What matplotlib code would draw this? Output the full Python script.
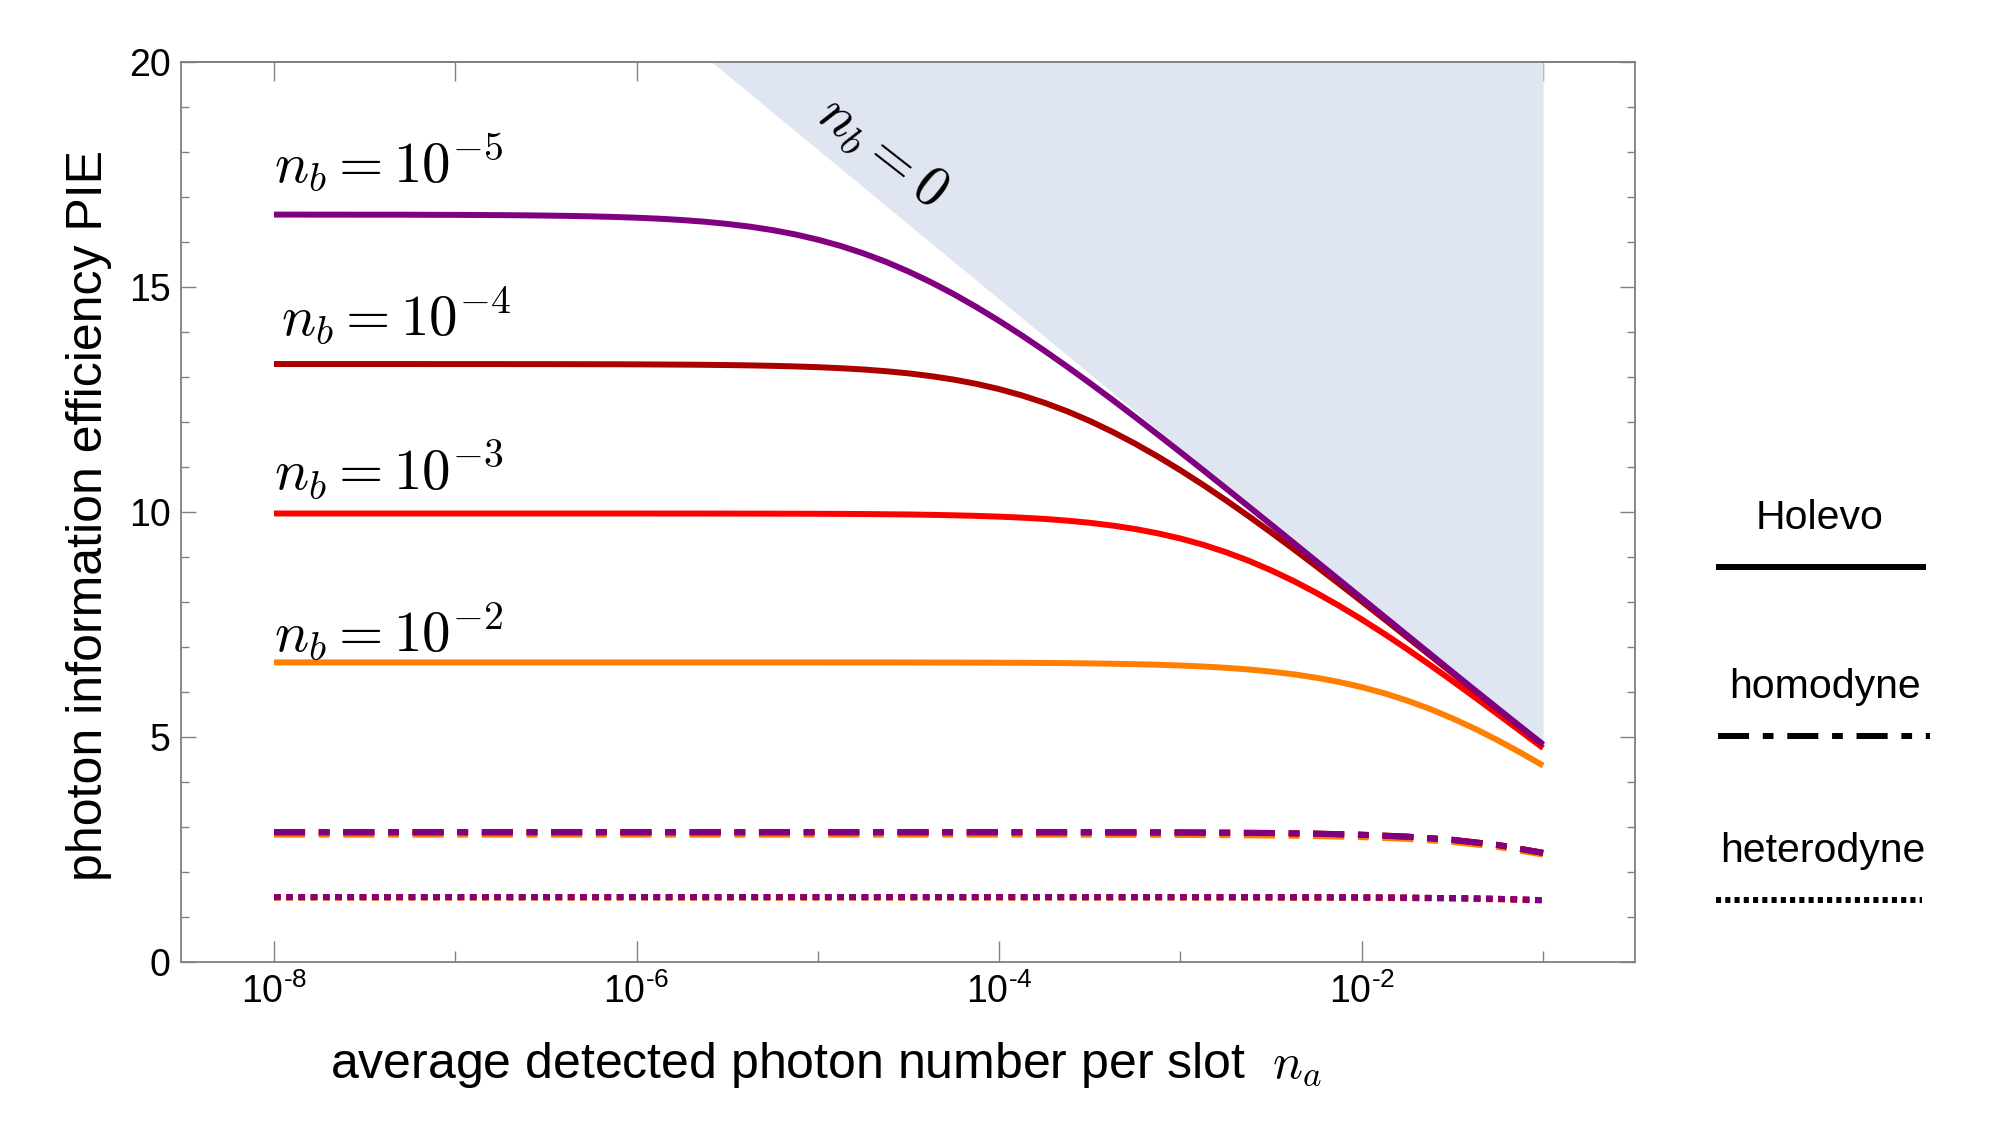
#!/usr/bin/env python

"""
photon information efficiency vs. average detected photon number
"""

import matplotlib
matplotlib.use("Agg")
import matplotlib.pyplot as plt
from matplotlib.lines import Line2D
from matplotlib.ticker import FixedLocator, NullLocator, NullFormatter

# ---- data ----
# fine x grid for the Holevo curves (1/8 decade)
na_fine = [1e-8, 1.334e-8, 1.778e-8, 2.371e-8, 3.162e-8, 4.217e-8, 5.623e-8, 7.499e-8,
           1e-7, 1.334e-7, 1.778e-7, 2.371e-7, 3.162e-7, 4.217e-7, 5.623e-7, 7.499e-7,
           1e-6, 1.334e-6, 1.778e-6, 2.371e-6, 3.162e-6, 4.217e-6, 5.623e-6, 7.499e-6,
           1e-5, 1.334e-5, 1.778e-5, 2.371e-5, 3.162e-5, 4.217e-5, 5.623e-5, 7.499e-5,
           1e-4, 1.334e-4, 1.778e-4, 2.371e-4, 3.162e-4, 4.217e-4, 5.623e-4, 7.499e-4,
           1e-3, 1.334e-3, 1.778e-3, 2.371e-3, 3.162e-3, 4.217e-3, 5.623e-3, 7.499e-3,
           1e-2, 1.334e-2, 1.778e-2, 2.371e-2, 3.162e-2, 4.217e-2, 5.623e-2, 7.499e-2,
           1e-1]

# Holevo, one curve per background noise n_b
holevo_nb5 = [16.609, 16.609, 16.608, 16.608, 16.607, 16.607, 16.606, 16.604,
              16.603, 16.600, 16.597, 16.593, 16.587, 16.580, 16.570, 16.557,
              16.540, 16.518, 16.488, 16.451, 16.402, 16.341, 16.264, 16.169,
              16.052, 15.913, 15.749, 15.560, 15.344, 15.104, 14.840, 14.553,
              14.247, 13.923, 13.583, 13.230, 12.866, 12.492, 12.110, 11.721,
              11.328, 10.930, 10.529, 10.125, 9.719, 9.311, 8.902, 8.493,
              8.082, 7.672, 7.262, 6.853, 6.444, 6.037, 5.633, 5.231,
              4.833]
holevo_nb4 = [13.288, 13.288, 13.288, 13.288, 13.288, 13.288, 13.288, 13.287,
              13.287, 13.287, 13.287, 13.286, 13.286, 13.285, 13.284, 13.283,
              13.281, 13.278, 13.275, 13.271, 13.265, 13.258, 13.248, 13.235,
              13.218, 13.196, 13.167, 13.129, 13.081, 13.019, 12.942, 12.847,
              12.731, 12.591, 12.427, 12.238, 12.023, 11.782, 11.518, 11.232,
              10.926, 10.602, 10.263, 9.910, 9.546, 9.173, 8.792, 8.405,
              8.013, 7.617, 7.219, 6.819, 6.418, 6.016, 5.616, 5.218,
              4.823]
holevo_nb3 = [9.967, 9.967, 9.967, 9.967, 9.967, 9.967, 9.967, 9.967,
              9.967, 9.967, 9.967, 9.967, 9.967, 9.967, 9.967, 9.967,
              9.967, 9.966, 9.966, 9.966, 9.965, 9.964, 9.963, 9.962,
              9.960, 9.958, 9.955, 9.950, 9.945, 9.937, 9.927, 9.914,
              9.897, 9.875, 9.846, 9.808, 9.760, 9.699, 9.622, 9.526,
              9.411, 9.272, 9.108, 8.919, 8.704, 8.465, 8.201, 7.916,
              7.612, 7.290, 6.953, 6.605, 6.246, 5.879, 5.507, 5.132,
              4.755]
holevo_nb2 = [6.658, 6.658, 6.658, 6.658, 6.658, 6.658, 6.658, 6.658,
              6.658, 6.658, 6.658, 6.658, 6.658, 6.658, 6.658, 6.658,
              6.658, 6.658, 6.658, 6.658, 6.658, 6.658, 6.658, 6.658,
              6.658, 6.657, 6.657, 6.657, 6.656, 6.655, 6.654, 6.653,
              6.651, 6.649, 6.646, 6.641, 6.636, 6.628, 6.618, 6.606,
              6.589, 6.567, 6.538, 6.501, 6.453, 6.393, 6.317, 6.223,
              6.108, 5.971, 5.810, 5.625, 5.415, 5.182, 4.928, 4.654,
              4.365]

# n_b = 0 limit (upper edge of the shaded area)
na_limit = [1e-6, 1.778e-6, 3.162e-6, 5.623e-6, 1e-5, 1.778e-5, 3.162e-5, 5.623e-5,
            1e-4, 1.778e-4, 3.162e-4, 5.623e-4, 1e-3, 1.778e-3, 3.162e-3, 5.623e-3,
            1e-2, 1.778e-2, 3.162e-2, 5.623e-2, 1e-1]
holevo_nb0 = [21.374, 20.544, 19.713, 18.883, 18.052, 17.222, 16.391, 15.561,
              14.730, 13.900, 13.069, 12.239, 11.409, 10.579, 9.750, 8.921,
              8.094, 7.269, 6.448, 5.636, 4.835]

# coarse x grid for homodyne / heterodyne (1/4 decade)
na = [1e-8, 1.778e-8, 3.162e-8, 5.623e-8, 1e-7, 1.778e-7, 3.162e-7, 5.623e-7,
      1e-6, 1.778e-6, 3.162e-6, 5.623e-6, 1e-5, 1.778e-5, 3.162e-5, 5.623e-5,
      1e-4, 1.778e-4, 3.162e-4, 5.623e-4, 1e-3, 1.778e-3, 3.162e-3, 5.623e-3,
      1e-2, 1.778e-2, 3.162e-2, 5.623e-2, 1e-1]

homo_nb5 = [2.885, 2.885, 2.885, 2.885, 2.885, 2.885, 2.885, 2.885,
            2.885, 2.885, 2.885, 2.885, 2.885, 2.885, 2.885, 2.885,
            2.885, 2.884, 2.884, 2.882, 2.880, 2.875, 2.867, 2.853,
            2.829, 2.787, 2.717, 2.603, 2.427]
homo_nb4 = [2.885, 2.885, 2.885, 2.885, 2.885, 2.885, 2.885, 2.885,
            2.885, 2.885, 2.885, 2.885, 2.885, 2.885, 2.885, 2.885,
            2.885, 2.884, 2.883, 2.882, 2.879, 2.875, 2.867, 2.853,
            2.829, 2.787, 2.716, 2.602, 2.427]
homo_nb3 = [2.880, 2.880, 2.880, 2.880, 2.880, 2.880, 2.880, 2.880,
            2.880, 2.880, 2.880, 2.880, 2.880, 2.880, 2.880, 2.879,
            2.879, 2.879, 2.878, 2.876, 2.874, 2.869, 2.862, 2.848,
            2.824, 2.782, 2.712, 2.598, 2.423]
homo_nb2 = [2.829, 2.829, 2.829, 2.829, 2.829, 2.829, 2.829, 2.829,
            2.829, 2.829, 2.829, 2.829, 2.829, 2.829, 2.829, 2.829,
            2.828, 2.828, 2.827, 2.826, 2.823, 2.819, 2.811, 2.798,
            2.775, 2.735, 2.667, 2.557, 2.387]

hetero_nb5 = [1.443, 1.443, 1.443, 1.443, 1.443, 1.443, 1.443, 1.443,
              1.443, 1.443, 1.443, 1.443, 1.443, 1.443, 1.443, 1.443,
              1.443, 1.443, 1.442, 1.442, 1.442, 1.441, 1.440, 1.439,
              1.436, 1.430, 1.420, 1.404, 1.375]
hetero_nb4 = [1.443, 1.443, 1.443, 1.443, 1.443, 1.443, 1.443, 1.443,
              1.443, 1.443, 1.443, 1.443, 1.443, 1.443, 1.443, 1.443,
              1.443, 1.442, 1.442, 1.442, 1.442, 1.441, 1.440, 1.438,
              1.436, 1.430, 1.420, 1.404, 1.375]
hetero_nb3 = [1.441, 1.441, 1.441, 1.441, 1.441, 1.441, 1.441, 1.441,
              1.441, 1.441, 1.441, 1.441, 1.441, 1.441, 1.441, 1.441,
              1.441, 1.441, 1.441, 1.441, 1.441, 1.440, 1.439, 1.437,
              1.434, 1.429, 1.419, 1.402, 1.374]
hetero_nb2 = [1.428, 1.428, 1.428, 1.428, 1.428, 1.428, 1.428, 1.428,
              1.428, 1.428, 1.428, 1.428, 1.428, 1.428, 1.428, 1.428,
              1.428, 1.428, 1.428, 1.428, 1.428, 1.427, 1.426, 1.424,
              1.421, 1.416, 1.406, 1.390, 1.362]

nb_labels = [r"$n_b = 10^{-2}$", r"$n_b = 10^{-3}$",
             r"$n_b = 10^{-4}$", r"$n_b = 10^{-5}$"]
# label anchor (x, baseline y) in data coordinates
label_x = [1e-8, 1e-8, 1.094e-8, 1e-8]
label_y = [6.91, 10.49, 13.93, 17.33]

xtick_pos = [1e-8, 1e-6, 1e-4, 1e-2]
xtick_lab = [r"$10^{\text{-8}}$", r"$10^{\text{-6}}$", r"$10^{\text{-4}}$", r"$10^{\text{-2}}$"]
xminor_pos = [1e-7, 1e-5, 1e-3, 1e-1]
ytick_pos = [0, 5, 10, 15, 20]

# ---- style ----
colors = ["#ff8000", "#ff0000", "#aa0000", "#800080"]   # n_b = 1e-2 ... 1e-5
shade = "#dfe5f1"
gray = "#808080"
lw = 4.3
dashdot = (0, (5.2, 2.3, 1.8, 2.3))
dotted = (0, (1.1, 0.95))

plt.rcParams["font.family"] = ["Liberation Sans", "DejaVu Sans"]
plt.rcParams["mathtext.fontset"] = "custom"
plt.rcParams["mathtext.rm"] = "Liberation Sans"
plt.rcParams["mathtext.it"] = "Liberation Sans:italic"
plt.rcParams["mathtext.bf"] = "Liberation Sans:bold"


def make_graph():
    W, H = 2000, 1125
    fig = plt.figure(figsize=(W / 100, H / 100), dpi=100)
    ax = fig.add_axes([181 / W, 1 - 962 / H, (1635 - 181) / W, 900 / H])

    # shaded n_b = 0 region
    ax.fill_between(na_limit, holevo_nb0, 20, color=shade, lw=0, zorder=1)
    ax.text(10 ** -4.641, 18.02, r"$n_b = 0$", rotation=-38,
            rotation_mode="anchor", ha="center", va="center",
            fontsize=41, math_fontfamily="cm", zorder=3)

    holevo = [holevo_nb2, holevo_nb3, holevo_nb4, holevo_nb5]
    homo = [homo_nb2, homo_nb3, homo_nb4, homo_nb5]
    hetero = [hetero_nb2, hetero_nb3, hetero_nb4, hetero_nb5]
    for i in range(4):
        ax.plot(na_fine, holevo[i], color=colors[i], lw=lw, solid_capstyle="butt",
                solid_joinstyle="round", zorder=4)
        ax.plot(na, homo[i], color=colors[i], lw=lw, ls=dashdot, zorder=4)
        ax.plot(na, hetero[i], color=colors[i], lw=lw, ls=dotted, zorder=4)
        ax.text(label_x[i], label_y[i], nb_labels[i], ha="left", va="baseline",
                fontsize=41, math_fontfamily="cm", zorder=5)

    ax.set_xscale("log")
    ax.set_xlim(10 ** -8.513, 10 ** -0.493)
    ax.set_ylim(0, 20)

    ax.xaxis.set_major_locator(FixedLocator(xtick_pos))
    ax.set_xticklabels(xtick_lab, fontsize=27)
    ax.xaxis.set_minor_locator(FixedLocator(xminor_pos))
    ax.xaxis.set_minor_formatter(NullFormatter())
    ax.set_yticks(ytick_pos)
    ax.set_yticklabels([str(t) for t in ytick_pos], fontsize=27)
    ax.yaxis.set_minor_locator(FixedLocator(range(21)))

    ax.tick_params(axis="x", which="major", direction="in", length=15,
                   width=1, color=gray, pad=8.5, top=False)
    ax.tick_params(axis="x", which="minor", direction="in", length=8,
                   width=1, color=gray, top=False)
    ax.tick_params(axis="y", which="major", direction="in", length=11,
                   width=1, color=gray, pad=7.5, right=True)
    ax.tick_params(axis="y", which="minor", direction="in", length=6,
                   width=1, color=gray, right=True)
    for s in ax.spines.values():
        s.set_color(gray)
        s.set_linewidth(1.3)

    # top ticks at every decade
    sec = ax.secondary_xaxis("top")
    sec.xaxis.set_major_locator(FixedLocator(xtick_pos + xminor_pos))
    sec.xaxis.set_minor_locator(NullLocator())
    sec.tick_params(direction="in", length=14, width=1, color=gray, labeltop=False)
    sec.spines["top"].set_color(gray)
    sec.spines["top"].set_linewidth(1.3)

    fig.text(89 / W, 1 - 515 / H, "photon information efficiency PIE",
             rotation=90, ha="center", va="center", fontsize=36)
    fig.text(330 / W, 1 - 1078 / H,
             r"average detected photon number per slot  $n_a$",
             ha="left", va="baseline", fontsize=36, math_fontfamily="cm")

    # legend on the right
    fig.text(1820 / W, 1 - 529 / H, "Holevo", ha="center", va="baseline", fontsize=29.5)
    fig.text(1825 / W, 1 - 698 / H, "homodyne", ha="center", va="baseline", fontsize=29.5)
    fig.text(1823 / W, 1 - 862 / H, "heterodyne", ha="center", va="baseline", fontsize=29.5)
    fig.add_artist(Line2D([1716 / W, 1926 / W], [1 - 567 / H] * 2, color="black",
                          lw=lw, solid_capstyle="butt", transform=fig.transFigure))
    fig.add_artist(Line2D([1718 / W, 1930 / W], [1 - 736 / H] * 2, color="black",
                          lw=lw, ls=dashdot, transform=fig.transFigure))
    fig.add_artist(Line2D([1716 / W, 1922 / W], [1 - 900 / H] * 2, color="black",
                          lw=lw, ls=(0, (0.85, 0.7)), transform=fig.transFigure))

    fig.savefig("out.png", dpi=100)
    plt.close(fig)


def main():
    make_graph()


if __name__ == "__main__":
    main()
